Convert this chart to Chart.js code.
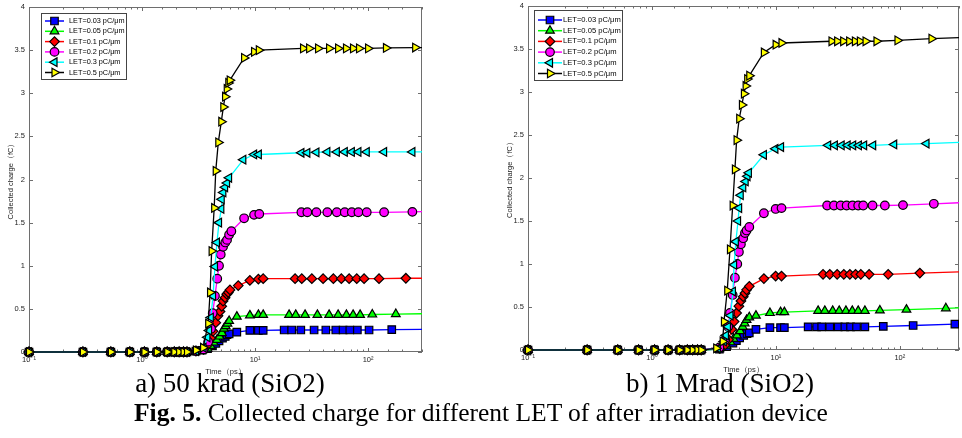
<!DOCTYPE html>
<html>
<head>
<meta charset="utf-8">
<script src="https://cdn.jsdelivr.net/npm/chart.js@4.4.1/dist/chart.umd.min.js"></script>
<style>
  body { margin: 0; background: #fff; width: 962px; height: 438px; overflow: hidden; position: relative; }
  canvas { position: absolute; top: 0; }
  #chartA { left: 0; }
  #chartB { left: 499px; }
  .cap { position: absolute; white-space: nowrap; text-align: center; color: #000;
         font-family: "Liberation Serif", "Times New Roman", serif; line-height: 1; }
  #capA { left: 0; width: 460px; top: 370px; font-size: 27px; }
  #capB { left: 490px; width: 460px; top: 370px; font-size: 27px; }
  #capFig { left: 0; width: 962px; top: 400px; font-size: 25.5px; }
</style>
</head>
<body>
<canvas id="chartA" width="440" height="378"></canvas>
<canvas id="chartB" width="463" height="376"></canvas>
<div class="cap" id="capA">a) 50 krad (SiO2)</div>
<div class="cap" id="capB">b) 1 Mrad (SiO2)</div>
<div class="cap" id="capFig"><b>Fig. 5.</b> Collected charge for different LET of after irradiation device</div>

<script>
// ========================== DATA ==========================
const seriesLabels = ["LET=0.03 pC/μm", "LET=0.05 pC/μm", "LET=0.1 pC/μm",
                      "LET=0.2 pC/μm", "LET=0.3 pC/μm", "LET=0.5 pC/μm"];

const xTickValues = [0.1, 1, 10, 100];
const xTickLabels = ["10⁻¹", "10⁰", "10¹", "10²"];

// flat part, same for every curve (ps / fC)
const flatTime   = [0.1, 0.3, 0.53, 0.78, 1.05, 1.35, 1.67, 1.93, 2.13, 2.33, 2.5];
const flatCharge = [0, 0, 0, 0, 0, 0, 0, 0, 0, 0, 0];

// a) 50 krad (SiO2)
const timeA003   = [3.0, 3.4, 3.8, 4.2, 4.5, 4.8, 5.15, 5.45, 5.65, 5.9, 6.9, 9.0, 10.7, 11.8, 18.1, 21.1, 25.4, 33.3, 42.3, 51.8, 60.1, 68.9, 80.4, 102, 162, 400];
const chargeA003 = [0.01, 0.02, 0.04, 0.07, 0.10, 0.13, 0.16, 0.18, 0.20, 0.21, 0.23, 0.25, 0.25, 0.25, 0.255, 0.255, 0.255, 0.255, 0.255, 0.255, 0.255, 0.255, 0.255, 0.255, 0.26, 0.265];
const timeA005   = [3.0, 3.4, 3.8, 4.05, 4.3, 4.6, 4.85, 5.1, 5.3, 5.5, 5.7, 5.9, 6.9, 9.0, 10.7, 11.8, 20, 22.9, 27.7, 35.6, 45.2, 54.3, 64.3, 73.7, 85, 109, 176, 400];
const chargeA005 = [0.01, 0.02, 0.04, 0.07, 0.11, 0.14, 0.18, 0.22, 0.27, 0.30, 0.33, 0.36, 0.41, 0.425, 0.43, 0.43, 0.43, 0.43, 0.43, 0.43, 0.43, 0.43, 0.43, 0.43, 0.43, 0.435, 0.44, 0.445];
const timeA01    = [3.0, 3.5, 3.8, 4.05, 4.25, 4.49, 4.7, 4.9, 5.07, 5.21, 5.43, 5.62, 5.8, 6.0, 7.1, 9.0, 10.7, 11.8, 22.6, 25.9, 31.8, 40, 49.3, 58, 68, 79.4, 92.2, 125, 216, 400];
const chargeA01  = [0.01, 0.03, 0.08, 0.16, 0.24, 0.34, 0.42, 0.47, 0.53, 0.59, 0.63, 0.67, 0.69, 0.72, 0.77, 0.83, 0.845, 0.85, 0.85, 0.85, 0.85, 0.85, 0.85, 0.85, 0.85, 0.85, 0.85, 0.85, 0.855, 0.855];
const timeA02    = [3.0, 3.5, 3.85, 4.08, 4.22, 4.42, 4.63, 4.80, 4.97, 5.21, 5.45, 5.65, 5.89, 6.17, 8.0, 9.8, 10.9, 25.7, 29.0, 34.9, 43.6, 52.9, 62.2, 71.8, 82.1, 97.3, 138.6, 246.6, 400];
const chargeA02  = [0.01, 0.03, 0.12, 0.27, 0.45, 0.65, 0.85, 1.00, 1.13, 1.22, 1.27, 1.30, 1.36, 1.40, 1.55, 1.59, 1.60, 1.62, 1.62, 1.62, 1.62, 1.62, 1.62, 1.62, 1.62, 1.62, 1.62, 1.625, 1.63];
const timeA03    = [3.0, 3.5, 3.79, 3.92, 4.06, 4.25, 4.42, 4.6, 4.8, 5.03, 5.07, 5.24, 5.43, 5.65, 5.89, 7.87, 9.8, 10.8, 25.7, 29.0, 34.9, 43.6, 52.9, 62.2, 71.8, 82.1, 97.3, 138.6, 246.6, 400];
const chargeA03  = [0.01, 0.05, 0.17, 0.25, 0.40, 0.65, 0.99, 1.27, 1.50, 1.66, 1.77, 1.85, 1.91, 1.96, 2.02, 2.23, 2.29, 2.29, 2.31, 2.31, 2.315, 2.32, 2.32, 2.32, 2.32, 2.32, 2.32, 2.32, 2.32, 2.32];
const timeA05    = [3.0, 3.47, 3.85, 4.0, 4.13, 4.35, 4.49, 4.73, 5.03, 5.24, 5.43, 5.62, 5.80, 5.97, 8.0, 9.8, 10.8, 26.6, 30.1, 36.1, 45.2, 54.3, 63.8, 73.6, 83.2, 100, 144, 261, 400];
const chargeA05  = [0.02, 0.05, 0.33, 0.69, 1.17, 1.67, 2.10, 2.43, 2.67, 2.84, 2.96, 3.05, 3.12, 3.15, 3.41, 3.48, 3.50, 3.52, 3.52, 3.52, 3.52, 3.52, 3.52, 3.52, 3.52, 3.52, 3.525, 3.53, 3.53];

// b) 1 Mrad (SiO2)
const timeB003   = [3.5, 4.0, 4.5, 4.8, 5.1, 5.5, 5.85, 6.1, 6.9, 8.95, 10.9, 11.7, 18.2, 21.3, 23.4, 27.2, 31.8, 36.0, 40.0, 44.7, 52.2, 73.5, 128, 278, 400];
const chargeB003 = [0.01, 0.04, 0.08, 0.11, 0.14, 0.17, 0.19, 0.20, 0.24, 0.26, 0.26, 0.26, 0.27, 0.27, 0.27, 0.27, 0.27, 0.27, 0.27, 0.27, 0.27, 0.275, 0.285, 0.30, 0.305];
const timeB005   = [3.5, 4.0, 4.3, 4.55, 4.85, 5.15, 5.4, 5.6, 5.8, 6.1, 6.9, 8.95, 10.9, 11.7, 21.9, 24.8, 28.7, 32.4, 36.7, 41.3, 46.1, 52.2, 69, 113, 235, 400];
const chargeB005 = [0.01, 0.05, 0.09, 0.13, 0.17, 0.22, 0.27, 0.31, 0.35, 0.38, 0.40, 0.43, 0.44, 0.44, 0.455, 0.455, 0.455, 0.455, 0.455, 0.455, 0.455, 0.455, 0.46, 0.47, 0.485, 0.495];
const timeB01    = [3.5, 3.9, 4.15, 4.4, 4.6, 4.82, 5.03, 5.22, 5.45, 5.63, 5.8, 6.1, 8.0, 9.95, 11.1, 24.0, 27.2, 31.2, 35.3, 39.5, 43.9, 48.4, 56.5, 80.5, 145, 400];
const chargeB01  = [0.02, 0.06, 0.12, 0.24, 0.33, 0.43, 0.51, 0.57, 0.62, 0.66, 0.70, 0.74, 0.83, 0.86, 0.86, 0.88, 0.88, 0.88, 0.88, 0.88, 0.88, 0.88, 0.88, 0.88, 0.895, 0.915];
const timeB02    = [3.5, 3.9, 4.12, 4.26, 4.48, 4.67, 4.88, 5.03, 5.22, 5.45, 5.63, 5.8, 6.1, 8.0, 9.95, 11.1, 25.9, 29.4, 33.3, 37.2, 41.5, 46.1, 50.6, 60.2, 75.7, 106, 188, 400];
const chargeB02  = [0.03, 0.12, 0.27, 0.43, 0.64, 0.84, 1.00, 1.14, 1.23, 1.30, 1.36, 1.39, 1.43, 1.59, 1.64, 1.65, 1.68, 1.68, 1.68, 1.68, 1.68, 1.68, 1.68, 1.68, 1.68, 1.685, 1.70, 1.72];
const timeB03    = [3.4, 3.8, 3.95, 4.1, 4.3, 4.5, 4.6, 4.75, 4.95, 5.05, 5.2, 5.45, 5.7, 5.9, 6.05, 8.0, 9.9, 11.0, 26.4, 29.9, 33.9, 37.9, 42.0, 46.7, 51.5, 60.9, 90, 164, 400];
const chargeB03  = [0.02, 0.10, 0.17, 0.27, 0.40, 0.68, 0.99, 1.26, 1.50, 1.65, 1.80, 1.89, 1.96, 2.02, 2.06, 2.27, 2.34, 2.36, 2.38, 2.38, 2.38, 2.38, 2.38, 2.38, 2.38, 2.38, 2.39, 2.40, 2.42];
const timeB05    = [3.3, 3.72, 3.81, 4.05, 4.26, 4.48, 4.67, 4.82, 5.06, 5.32, 5.52, 5.70, 5.87, 6.10, 8.0, 9.95, 11.1, 28.1, 31.2, 34.9, 39.0, 43.4, 47.6, 52.9, 64.8, 95.7, 180, 400];
const chargeB05  = [0.02, 0.10, 0.33, 0.69, 1.17, 1.68, 2.10, 2.44, 2.69, 2.85, 2.98, 3.07, 3.15, 3.19, 3.46, 3.55, 3.57, 3.59, 3.59, 3.59, 3.59, 3.59, 3.59, 3.59, 3.59, 3.60, 3.62, 3.64];

// ========================== STYLE ==========================
const lineColors   = ["#0000ff", "#00ff00", "#ff0000", "#ff00ff", "#00ffff", "#000000"];
const markerFills  = ["#0000ff", "#00ff00", "#ff0000", "#ff00ff", "#00ffff", "#ffff00"];
const markerStyles = ["rect", "triangle", "rectRot", "circle", "triangle", "triangle"];
const markerTurns  = [0, 0, 0, 0, -90, 90];
const markerSizes  = [5.3, 5, 4.8, 4.3, 5, 5];
const FONT = "'Liberation Sans', Arial, sans-serif";

function isDecade(v) {
  const l = Math.log10(v);
  return Math.abs(l - Math.round(l)) < 1e-6;
}

function makeSeries(times, charges) {
  const t = flatTime.concat(times);
  const q = flatCharge.concat(charges);
  return t.map((x, i) => ({ x, y: q[i] }));
}

// keep the plot box exactly where the layout padding puts it
function noPad(s) {
  s.paddingLeft = 0; s.paddingRight = 0; s.paddingTop = 0; s.paddingBottom = 0;
}

// ========================== PLUGINS ==========================
// MATLAB style box with inward ticks
const matlabAxes = {
  id: "matlabAxes",
  beforeDatasetsDraw(chart) {
    const { ctx, chartArea: a, scales: { x, y } } = chart;
    ctx.save();
    ctx.strokeStyle = "#6e6e6e";
    ctx.lineWidth = 1;
    ctx.strokeRect(a.left + 0.5, a.top + 0.5, a.right - a.left - 1, a.bottom - a.top - 1);
    ctx.beginPath();
    x.ticks.forEach(t => {
      const px = Math.round(x.getPixelForValue(t.value)) + 0.5;
      const len = isDecade(t.value) ? 4 : 2.5;
      ctx.moveTo(px, a.bottom); ctx.lineTo(px, a.bottom - len);
      ctx.moveTo(px, a.top); ctx.lineTo(px, a.top + len);
    });
    y.ticks.forEach(t => {
      const py = Math.round(y.getPixelForValue(t.value)) + 0.5;
      ctx.moveTo(a.left, py); ctx.lineTo(a.left + 4, py);
      ctx.moveTo(a.right, py); ctx.lineTo(a.right - 4, py);
    });
    ctx.stroke();
    ctx.restore();
  }
};

// legend drawn as line + marker, like the MATLAB one
const letLegend = {
  id: "letLegend",
  afterDatasetsDraw(chart, args, opts) {
    const { ctx, chartArea: a } = chart;
    const bx = a.left + opts.dx, by = a.top + opts.dy;
    ctx.save();
    ctx.fillStyle = "#fff";
    ctx.fillRect(bx, by, opts.w, opts.h);
    ctx.strokeStyle = "#444";
    ctx.lineWidth = 1;
    ctx.strokeRect(bx + 0.5, by + 0.5, opts.w, opts.h);
    ctx.font = opts.font + "px " + FONT;
    ctx.textBaseline = "middle";
    chart.data.datasets.forEach((ds, i) => {
      const cy = by + opts.first + i * opts.row;
      ctx.strokeStyle = ds.borderColor;
      ctx.lineWidth = 1.5;
      ctx.beginPath();
      ctx.moveTo(bx + 4, cy);
      ctx.lineTo(bx + 4 + opts.lineLen, cy);
      ctx.stroke();
      ctx.fillStyle = ds.pointBackgroundColor;
      ctx.strokeStyle = "#000";
      ctx.lineWidth = 1.2;
      Chart.helpers.drawPoint(ctx, {
        pointStyle: ds.pointStyle, radius: ds.pointRadius,
        rotation: ds.pointRotation, borderWidth: 1.2
      }, bx + 4 + opts.lineLen / 2, cy);
      ctx.fillStyle = "#000";
      ctx.fillText(ds.label, bx + opts.textX, cy);
    });
    ctx.restore();
  }
};

// ========================== CHARTS ==========================
function buildChart(canvasId, times, charges, pad, legend) {
  const datasets = times.map((t, i) => ({
    label: seriesLabels[i],
    data: makeSeries(t, charges[i]),
    borderColor: lineColors[i],
    borderWidth: 1.3,
    pointStyle: markerStyles[i],
    pointRotation: markerTurns[i],
    pointRadius: markerSizes[i],
    pointBackgroundColor: markerFills[i],
    pointBorderColor: "#000",
    pointBorderWidth: 1.2,
    tension: 0,
    order: 5 - i,
    clip: { left: 8, top: 0, right: 0, bottom: 8 }
  }));

  return new Chart(document.getElementById(canvasId), {
    type: "line",
    data: { datasets },
    options: {
      responsive: false,
      animation: false,
      layout: { padding: pad, autoPadding: false },
      plugins: {
        legend: { display: false },
        tooltip: { enabled: false },
        letLegend: legend
      },
      scales: {
        x: {
          type: "logarithmic",
          min: 0.1,
          max: 300,
          afterFit: s => { s.height = 26; noPad(s); },
          grid: { display: false, drawTicks: false },
          border: { display: false },
          ticks: {
            autoSkip: false,
            maxRotation: 0,
            padding: 3,
            color: "#222",
            font: { family: FONT, size: 7.5 },
            callback: v => {
              const i = xTickValues.findIndex(t => Math.abs(Math.log10(t) - Math.log10(v)) < 1e-6);
              return i >= 0 ? xTickLabels[i] : "";
            }
          },
          title: {
            display: true,
            text: "Time（ps）",
            color: "#222",
            font: { family: FONT, size: 7.5 },
            padding: { top: 0, bottom: 2 }
          }
        },
        y: {
          min: 0,
          max: 4,
          afterFit: s => { s.width = 29; noPad(s); },
          grid: { display: false, drawTicks: false },
          border: { display: false },
          ticks: {
            stepSize: 0.5,
            padding: 4,
            color: "#222",
            font: { family: FONT, size: 7.5 },
            callback: v => String(v)
          },
          title: {
            display: true,
            text: "Collected charge（fC）",
            color: "#222",
            font: { family: FONT, size: 7.5 },
            padding: { top: 6, bottom: 0 }
          }
        }
      }
    },
    plugins: [matlabAxes, letLegend]
  });
}

buildChart("chartA",
  [timeA003, timeA005, timeA01, timeA02, timeA03, timeA05],
  [chargeA003, chargeA005, chargeA01, chargeA02, chargeA03, chargeA05],
  { left: 0, right: 18, top: 7, bottom: 0 },
  { dx: 12, dy: 6, w: 85, h: 66, first: 8, row: 10.3, lineLen: 19, textX: 28, font: 7.3 });

buildChart("chartB",
  [timeB003, timeB005, timeB01, timeB02, timeB03, timeB05],
  [chargeB003, chargeB005, chargeB01, chargeB02, chargeB03, chargeB05],
  { left: 0, right: 3, top: 6, bottom: 0 },
  { dx: 6, dy: 4, w: 88, h: 70, first: 10, row: 10.7, lineLen: 24, textX: 29, font: 7.6 });
</script>
</body>
</html>
